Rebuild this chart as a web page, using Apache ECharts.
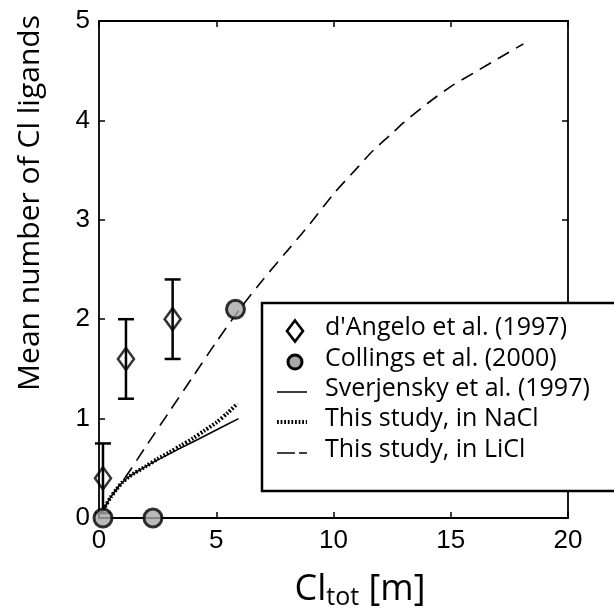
<!DOCTYPE html>
<html>
<head>
<meta charset="utf-8">
<script src="https://cdn.jsdelivr.net/npm/echarts@6/dist/echarts.min.js"></script>
<style>
html,body{margin:0;padding:0;background:#fff;}
#chart{width:614px;height:614px;}
</style>
</head>
<body>
<div id="chart"></div>
<script>
// ---- data ----
var xTicks = [0, 5, 10, 15, 20];
var yTicks = [0, 1, 2, 3, 4, 5];

var dAngeloX    = [0.17, 1.15, 3.14];
var dAngeloY    = [0.40, 1.60, 2.00];
var dAngeloLow  = [0.05, 1.20, 1.60];
var dAngeloHigh = [0.75, 2.00, 2.40];

var collingsX = [0.17, 2.30, 5.82];
var collingsY = [0.00, 0.00, 2.10];

var sverX = [0.12, 0.25, 0.50, 0.75, 1.00, 1.25, 1.50, 2.00, 2.50, 3.00, 4.00, 5.00, 5.95];
var sverY = [0.05, 0.11, 0.21, 0.29, 0.36, 0.41, 0.45, 0.52, 0.585, 0.645, 0.765, 0.885, 1.00];

var naclX = [0.12, 0.25, 0.50, 0.75, 1.00, 1.25, 1.50, 2.00, 2.50, 3.00, 3.50, 4.00, 4.50, 5.00, 5.50, 5.90];
var naclY = [0.05, 0.11, 0.21, 0.29, 0.36, 0.41, 0.45, 0.52, 0.595, 0.66, 0.73, 0.80, 0.88, 0.96, 1.06, 1.15];

var liclX = [0.12, 0.50, 1.00, 1.30, 2.00, 3.00, 4.00, 5.00, 6.00, 7.00, 8.00, 9.00, 10.00, 11.00, 11.70, 12.50, 13.00, 14.00, 15.00, 16.00, 17.00, 18.10];
var liclY = [0.05, 0.21, 0.37, 0.47, 0.72, 1.07, 1.42, 1.77, 2.10, 2.40, 2.68, 2.96, 3.26, 3.52, 3.70, 3.87, 3.98, 4.17, 4.34, 4.48, 4.62, 4.77];

var legendNames = ["d'Angelo et al. (1997)", "Collings et al. (2000)", "Sverjensky et al. (1997)", "This study, in NaCl", "This study, in LiCl"];

// ---- helpers ----
function zip(a, b) { return a.map(function (v, i) { return [v, b[i]]; }); }
function zip3(a, b, c) { return a.map(function (v, i) { return [v, b[i], c[i]]; }); }

var chart = echarts.init(document.getElementById('chart'), null, {renderer: 'canvas'});

var tickFont = 'Liberation Sans, Arial, sans-serif';
var textFont = 'Open Sans, sans-serif';

function axisCommon(showLabel) {
  return {
    axisLine: {show: true, onZero: false, lineStyle: {color: '#000', width: 1.8}},
    axisTick: {show: true, inside: true, length: 6, lineStyle: {color: '#000', width: 1.5}},
    axisLabel: {show: showLabel, color: '#000', fontSize: 26, fontFamily: tickFont},
    splitLine: {show: false}
  };
}

var xMain = Object.assign({type: 'value', min: xTicks[0], max: xTicks[xTicks.length - 1], interval: 5, position: 'bottom'}, axisCommon(true));
xMain.axisLabel.margin = 10;
var xTop = Object.assign({type: 'value', min: xTicks[0], max: xTicks[xTicks.length - 1], interval: 5, position: 'top'}, axisCommon(false));
var yMain = Object.assign({type: 'value', min: yTicks[0], max: yTicks[yTicks.length - 1], interval: 1, position: 'left'}, axisCommon(true));
yMain.axisLabel.margin = 9;
var yRight = Object.assign({type: 'value', min: yTicks[0], max: yTicks[yTicks.length - 1], interval: 1, position: 'right'}, axisCommon(false));

// legend drawn as graphic elements
var lx = 277, rowY = [331, 362, 392, 422, 453], tx = 325;
var legendGraphic = [
  {type: 'rect', z: 100, shape: {x: 262, y: 303, width: 400, height: 188}, style: {fill: '#fff', stroke: '#000', lineWidth: 2.5}},
  {type: 'polygon', z: 101, shape: {points: [[295, rowY[0] - 10.5], [303, rowY[0]], [295, rowY[0] + 10.5], [287, rowY[0]]]}, style: {fill: 'none', stroke: '#000', lineWidth: 2.6}},
  {type: 'circle', z: 101, shape: {cx: 295, cy: rowY[1], r: 7}, style: {fill: '#a8a8a8', stroke: '#000', lineWidth: 3}},
  {type: 'line', z: 101, shape: {x1: lx, y1: rowY[2], x2: lx + 30, y2: rowY[2]}, style: {stroke: '#000', lineWidth: 1.5}},
  {type: 'line', z: 101, shape: {x1: lx, y1: rowY[3], x2: lx + 30, y2: rowY[3]}, style: {stroke: '#000', lineWidth: 4, lineDash: [1.8, 1.8]}},
  {type: 'line', z: 101, shape: {x1: lx, y1: rowY[4], x2: lx + 18, y2: rowY[4]}, style: {stroke: '#000', lineWidth: 1.5}},
  {type: 'line', z: 101, shape: {x1: lx + 22, y1: rowY[4], x2: lx + 30, y2: rowY[4]}, style: {stroke: '#000', lineWidth: 1.5}}
];
legendNames.forEach(function (n, i) {
  legendGraphic.push({type: 'text', z: 101, x: tx, y: rowY[i] - 3, style: {text: n, fill: '#000', font: '25px ' + textFont, textVerticalAlign: 'middle', textAlign: 'left'}});
});

// axis titles
var titleGraphic = [
  {type: 'text', z: 50, x: 30, y: 203, rotation: Math.PI / 2,
   style: {text: 'Mean number of Cl ligands', fill: '#000', font: '30px ' + textFont, textAlign: 'center', textVerticalAlign: 'middle'}},
  {type: 'text', z: 50, x: 360, y: 590,
   style: {text: '{a|Cl}{b|tot}{a| [m]}', fill: '#000', textAlign: 'center', textVerticalAlign: 'middle',
     rich: {a: {fontSize: 36, fontFamily: textFont, fill: '#000'}, b: {fontSize: 25, fontFamily: textFont, fill: '#000', padding: [16, 0, 0, 0]}}}}
];

var option = {
  backgroundColor: '#fff',
  animation: false,
  grid: {left: 99, right: 46, top: 21, bottom: 96, containLabel: false},
  xAxis: [xMain, xTop],
  yAxis: [yMain, yRight],
  series: [
    {
      name: 'Sverjensky', type: 'line', data: zip(sverX, sverY), symbol: 'none', smooth: 0.25,
      lineStyle: {color: '#000', width: 1.5}, z: 2
    },
    {
      name: 'NaCl', type: 'line', data: zip(naclX, naclY), symbol: 'none', smooth: 0.25,
      lineStyle: {color: '#000', width: 4, type: [1.8, 1.8]}, z: 2
    },
    {
      name: 'LiCl', type: 'line', data: zip(liclX, liclY), symbol: 'none', smooth: 0.25,
      lineStyle: {color: '#000', width: 1.6, type: [13, 8]}, z: 2
    },
    {
      name: 'errbars', type: 'custom', data: zip3(dAngeloX, dAngeloLow, dAngeloHigh), z: 3, clip: false,
      renderItem: function (params, api) {
        var lo = api.coord([api.value(0), api.value(1)]);
        var hi = api.coord([api.value(0), api.value(2)]);
        var w = 8;
        var st = {stroke: '#000', lineWidth: 2.5};
        return {type: 'group', children: [
          {type: 'line', shape: {x1: lo[0], y1: lo[1], x2: hi[0], y2: hi[1]}, style: st},
          {type: 'line', shape: {x1: hi[0] - w, y1: hi[1], x2: hi[0] + w, y2: hi[1]}, style: st},
          {type: 'line', shape: {x1: lo[0] - w, y1: lo[1], x2: lo[0] + w, y2: lo[1]}, style: st}
        ]};
      }
    },
    {
      name: legendNames[0], type: 'scatter', data: zip(dAngeloX, dAngeloY), symbol: 'diamond', symbolSize: [16, 22], z: 4, clip: false,
      itemStyle: {color: 'rgba(0,0,0,0)', borderColor: '#000', borderWidth: 2.6}
    },
    {
      name: legendNames[1], type: 'scatter', data: zip(collingsX, collingsY), symbol: 'circle', symbolSize: 18, z: 5, clip: false,
      itemStyle: {color: '#a8a8a8', borderColor: '#000', borderWidth: 3}
    }
  ],
  graphic: legendGraphic.concat(titleGraphic)
};
chart.setOption(option);
</script>
</body>
</html>
